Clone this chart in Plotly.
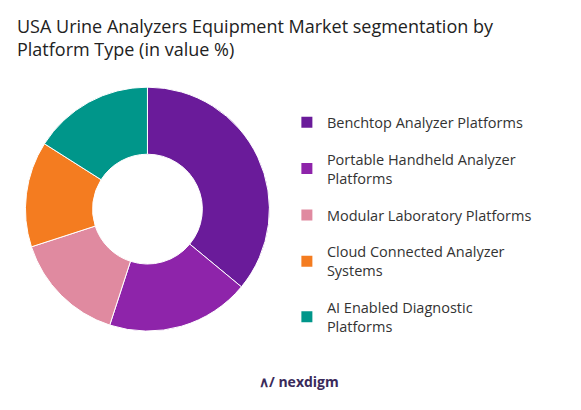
import plotly.graph_objects as go

labels = ["Benchtop Analyzer Platforms",
          "Portable Handheld Analyzer<br>Platforms",
          "Modular Laboratory Platforms",
          "Cloud Connected Analyzer<br>Systems",
          "AI Enabled Diagnostic<br>Platforms"]
values = [36, 19, 15, 14, 16]
colors = ["#6a1b9a", "#8e24aa", "#e08aa0", "#f47c20", "#00968a"]

fig = go.Figure(go.Pie(
    labels=labels, values=values, hole=0.45, sort=False, direction="clockwise",
    rotation=0, marker=dict(colors=colors, line=dict(color="white", width=1)),
    textinfo="none", hoverinfo="label+percent", showlegend=False,
    domain=dict(x=[0.03, 0.45], y=[0.212, 0.807]),
))

# legend entries as dummy traces so the gaps between items can be set
for lab, col in zip(labels, colors):
    fig.add_trace(go.Scatter(x=[None], y=[None], mode="markers", name=lab, legendgroup=lab,
                             marker=dict(symbol="square", size=11, color=col)))

fig.update_layout(
    width=581, height=410, paper_bgcolor="white", plot_bgcolor="white",
    margin=dict(l=0, r=0, t=0, b=0),
    xaxis=dict(visible=False), yaxis=dict(visible=False),
    font=dict(family="Open Sans", color="#333333"),
    legend=dict(x=0.48, xanchor="left", y=0.76, yanchor="top",
                font=dict(size=14.5, color="#333333"), tracegroupgap=15),
    annotations=[
        dict(text="USA Urine Analyzers Equipment Market segmentation by<br>Platform Type (in value %)",
             x=0.012, y=0.99, xref="paper", yref="paper", xanchor="left", yanchor="top",
             align="left", showarrow=False, font=dict(size=18, color="#222222")),
        dict(text="<b>∧∕ nexdigm</b>", x=0.5, y=0.06, xref="paper", yref="paper",
             showarrow=False, font=dict(size=14, color="#3a2a5a")),
    ],
)

fig.write_html("out.html")
